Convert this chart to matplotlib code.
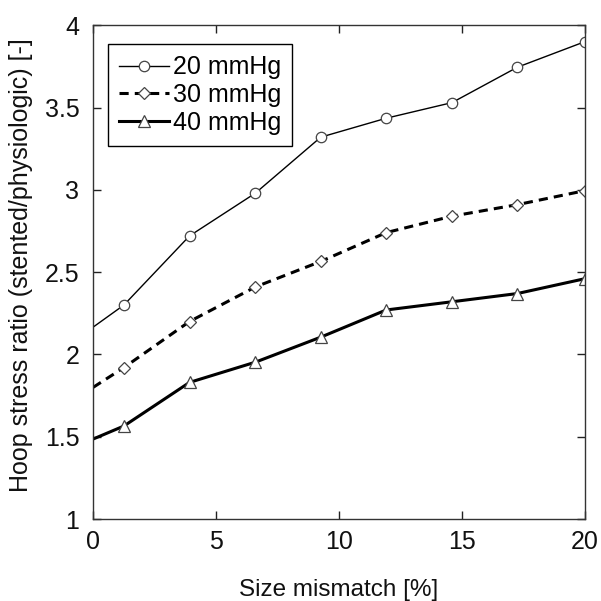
import matplotlib.pyplot as plt

plt.rcParams['font.family'] = ['Liberation Sans', 'DejaVu Sans']

# size mismatch [%]
mismatch = [0, 1.25, 3.92, 6.6, 9.26, 11.92, 14.6, 17.26, 20]

# hoop stress ratio for each pressure
hoop_20 = [2.166, 2.30, 2.72, 2.98, 3.32, 3.435, 3.53, 3.745, 3.90]
hoop_30 = [1.80, 1.92, 2.20, 2.41, 2.565, 2.74, 2.84, 2.91, 2.995]
hoop_40 = [1.486, 1.565, 1.83, 1.953, 2.105, 2.27, 2.32, 2.37, 2.46]

labels = ['20 mmHg', '30 mmHg', '40 mmHg']

fig = plt.figure(figsize=(6.01, 6.01), dpi=100)
ax = fig.add_axes([0.155, 0.1364, 0.818, 0.8216])

mk = dict(markersize=7.5, markerfacecolor='white', markeredgecolor='#444444',
          markeredgewidth=0.9, markevery=list(range(1, len(mismatch))))

ax.plot(mismatch, hoop_20, '-', color='black', lw=1.0, marker='o', label=labels[0], **mk)
ax.plot(mismatch, hoop_30, color='black', lw=2.2, linestyle=(0, (3, 2)), marker='D',
        label=labels[1], **{**mk, 'markersize': 6.5})
ax.plot(mismatch, hoop_40, '-', color='black', lw=2.2, marker='^', label=labels[2],
        **{**mk, 'markersize': 8.5})

ax.set_xlim(0, 20)
ax.set_ylim(1, 4)
ax.set_xticks([0, 5, 10, 15, 20])
ax.set_yticks([1, 1.5, 2, 2.5, 3, 3.5, 4])
ax.set_yticklabels(['1', '1.5', '2', '2.5', '3', '3.5', '4'])
ax.tick_params(direction='in', length=6, width=1, top=True, right=True,
               labelsize=18, colors='#222222', labelcolor='#111111')
ax.tick_params(axis='y', pad=10)
ax.tick_params(axis='x', pad=8)
for s in ax.spines.values():
    s.set_linewidth(1.0)
    s.set_color('#333333')

ax.set_xlabel('Size mismatch [%]', fontsize=17.5, labelpad=18, color='#111111')
ax.set_ylabel('Hoop stress ratio (stented/physiologic) [-]', fontsize=18,
              color='#111111')
ax.yaxis.set_label_coords(-0.122, 0.515)

leg = ax.legend(loc='upper left', bbox_to_anchor=(0.03, 0.962), fontsize=18,
                frameon=True, fancybox=False, edgecolor='black', framealpha=1,
                handlelength=2.0, handletextpad=0.15, borderpad=0.45,
                labelspacing=0.15, borderaxespad=0)
leg.get_frame().set_linewidth(1.0)

fig.savefig('out.png', dpi=100)
